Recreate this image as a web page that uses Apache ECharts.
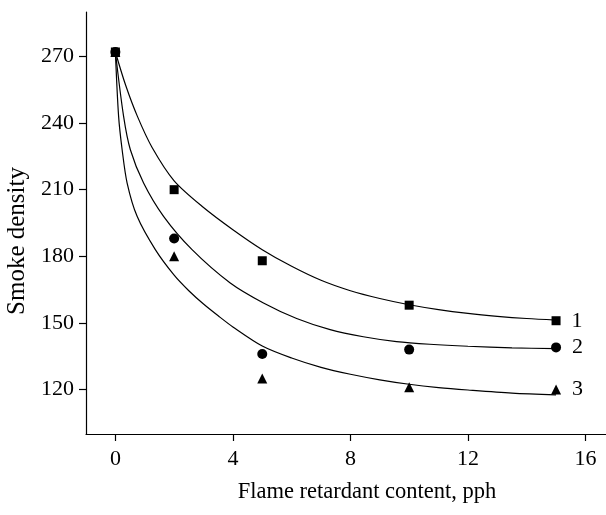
<!DOCTYPE html>
<html>
<head>
<meta charset="utf-8">
<script src="https://cdn.jsdelivr.net/npm/echarts@6/dist/echarts.min.js"></script>
<style>
html,body{margin:0;padding:0;background:#fff;}
#c{width:606px;height:515px;}
</style>
</head>
<body>
<div id="c"></div>
<script>
// Measured data points
const content = [0, 2, 5, 10, 15];
const series1 = [272, 210, 178, 158, 151];
const series2 = [272, 188, 136, 138, 139];
const series3 = [272, 180, 125, 121, 120];
const seriesNames = ['1', '2', '3'];

// Fitted curves: [x, y]
const curve1 = [[0,272],[0.35,257],[0.75,243],[1.25,229],[2,214],[3,202],[4,192],[5,183],[6,175.5],[7,169.2],[8,164.5],[9,161],[10,158.2],[11,156],[12,154.3],[13,153],[14,152],[15,151.3]];
const curve2 = [[0,272],[0.28,243],[0.51,228],[0.96,213],[1.64,198],[2.61,183],[3.91,168],[5.04,159],[6.17,152],[7.31,147],[8.44,143.8],[9.57,141.6],[10.7,140.4],[12,139.5],[13.5,138.8],[15,138.4]];
const curve3 = [[0,272],[0.11,243],[0.23,228],[0.4,213],[0.74,198],[1.36,183],[2,171.5],[2.5,164.5],[3,158.5],[3.5,153.2],[4,148.2],[5,139.6],[6,134.2],[7,130],[8,126.9],[9,124.4],[10,122.4],[11,120.9],[12,119.8],[13.5,118.4],[15,117.6]];

const xTicks = [0, 4, 8, 12, 16];
const yTicks = [120, 150, 180, 210, 240, 270];

const font = 'Liberation Serif';
const chart = echarts.init(document.getElementById('c'), null, {renderer: 'canvas'});

function pts(vals) { return content.map((x, i) => [x, vals[i]]); }
function scatter(vals, symbol, size, name) {
  const d = pts(vals);
  return {
    type: 'scatter', symbol: symbol, symbolSize: size,
    itemStyle: {color: '#000', opacity: 1},
    data: d.map((p, i) => i === d.length - 1 ? {
      value: p,
      label: {show: true, position: 'right', distance: 11, formatter: name,
        fontFamily: font, fontSize: 22, color: '#000'}
    } : p),
    z: 5, silent: true
  };
}
function curve(c) {
  return {type: 'line', data: c, smooth: 0.3, showSymbol: false,
    lineStyle: {color: '#000', width: 1.2, opacity: 1}, silent: true, z: 3};
}

chart.setOption({
  backgroundColor: '#fff',
  animation: false,
  grid: {left: 86, right: 0, top: 12, bottom: 81, outerBoundsMode: 'none', containLabel: false},
  xAxis: {
    type: 'value', min: -1, max: 16.7,
    name: 'Flame retardant content, pph', nameLocation: 'middle', nameGap: 47,
    nameTextStyle: {fontFamily: font, fontSize: 22.5, color: '#000', padding: [0, 0, 0, 42]},
    axisLine: {show: true, onZero: false, lineStyle: {color: '#000', width: 1.2}},
    axisTick: {show: true, inside: false, length: 7, customValues: xTicks, lineStyle: {color: '#000', width: 1.2}},
    axisLabel: {customValues: xTicks, fontFamily: font, fontSize: 22, color: '#000', margin: 14},
    splitLine: {show: false}
  },
  yAxis: {
    type: 'value', min: 100, max: 290,
    name: 'Smoke density', nameLocation: 'middle', nameGap: 53, nameRotate: 90,
    nameTextStyle: {fontFamily: font, fontSize: 25, color: '#000', padding: [0, 36, 0, 0]},
    axisLine: {show: true, onZero: false, lineStyle: {color: '#000', width: 1.2}},
    axisTick: {show: true, inside: false, length: 7, customValues: yTicks, lineStyle: {color: '#000', width: 1.2}},
    axisLabel: {customValues: yTicks, fontFamily: font, fontSize: 22, color: '#000', margin: 12},
    splitLine: {show: false}
  },
  series: [
    curve(curve1), curve(curve2), curve(curve3),
    scatter(series1, 'rect', 9, seriesNames[0]),
    scatter(series2, 'circle', 10, seriesNames[1]),
    scatter(series3, 'triangle', 10, seriesNames[2])
  ]
});
</script>
</body>
</html>
